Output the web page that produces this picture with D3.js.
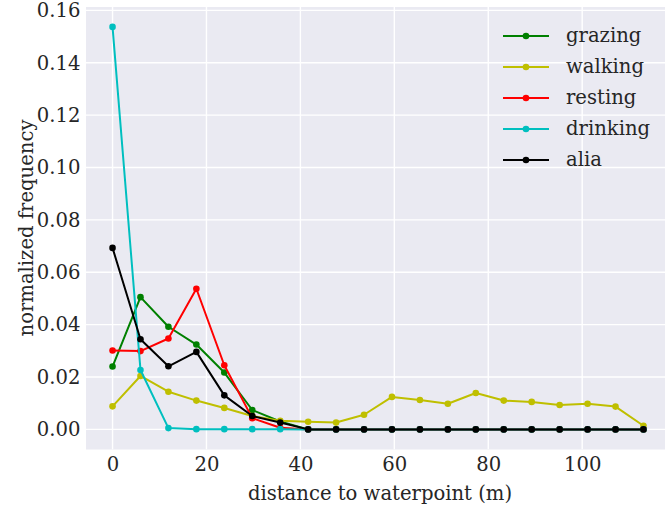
<!DOCTYPE html>
<html>
<head>
<meta charset="utf-8">
<script src="https://cdn.jsdelivr.net/npm/d3@7"></script>
<style>
  html, body { margin: 0; padding: 0; background: #ffffff; }
  svg { display: block; }
</style>
</head>
<body>
<svg id="chart" width="665" height="510"></svg>
<script>
// Bin centres (m) of distance to the waterpoint
const distance = [0, 5.95, 11.9, 17.85, 23.8, 29.75, 35.7, 41.65, 47.6, 53.55,
                  59.5, 65.45, 71.4, 77.35, 83.3, 89.25, 95.2, 101.15, 107.1, 113.05];

// Normalized frequency per behaviour
const grazing  = [0.0240, 0.0505, 0.0392, 0.0324, 0.0217, 0.0074, 0.0030, 0, 0, 0,
                  0, 0, 0, 0, 0, 0, 0, 0, 0, 0];
const walking  = [0.0088, 0.0204, 0.0144, 0.0110, 0.0082, 0.0051, 0.0033, 0.0029, 0.0026, 0.0056,
                  0.0124, 0.0112, 0.0098, 0.0139, 0.0110, 0.0105, 0.0093, 0.0098, 0.0087, 0.0014];
const resting  = [0.0301, 0.0299, 0.0347, 0.0537, 0.0245, 0.0043, 0.0006, 0, 0, 0,
                  0, 0, 0, 0, 0, 0, 0, 0, 0, 0];
const drinking = [0.1537, 0.0227, 0.0005, 0.0001, 0.0001, 0.0001, 0.0001, 0, 0, 0,
                  0, 0, 0, 0, 0, 0, 0, 0, 0, 0];
const alia     = [0.0693, 0.0344, 0.0241, 0.0296, 0.0130, 0.0051, 0.0026, 0, 0, 0,
                  0, 0, 0, 0, 0, 0, 0, 0, 0, 0];

const seriesNames  = ["grazing", "walking", "resting", "drinking", "alia"];
const seriesValues = [grazing, walking, resting, drinking, alia];
const seriesColors = ["#008000", "#bfbf00", "#ff0000", "#00bfbf", "#000000"];

const xTicks = [0, 20, 40, 60, 80, 100];
const yTicks = [0, 0.02, 0.04, 0.06, 0.08, 0.10, 0.12, 0.14, 0.16];

const FONT = "'DejaVu Serif', serif";
const FONT_SIZE = "19.6px";
const TEXT_COLOR = "#262626";

const svg = d3.select("#chart");
const plot = { left: 86, top: 7, right: 670, bottom: 449.5 };

const x = d3.scaleLinear().domain([-5.65, 118.7]).range([plot.left, plot.right]);
const y = d3.scaleLinear().domain([-0.00768, 0.1613]).range([plot.bottom, plot.top]);

function styleText(sel) {
  return sel.style("font-family", FONT).style("font-size", FONT_SIZE).style("fill", TEXT_COLOR);
}

// Axes background
svg.append("rect")
  .attr("x", plot.left).attr("y", plot.top)
  .attr("width", plot.right - plot.left).attr("height", plot.bottom - plot.top)
  .attr("fill", "#eaeaf2");

svg.append("defs").append("clipPath").attr("id", "plotclip")
  .append("rect")
  .attr("x", plot.left).attr("y", plot.top)
  .attr("width", plot.right - plot.left).attr("height", plot.bottom - plot.top);

// White grid lines
const grid = svg.append("g").attr("clip-path", "url(#plotclip)");
grid.selectAll("line.gx").data(xTicks).join("line")
  .attr("x1", d => x(d)).attr("x2", d => x(d))
  .attr("y1", plot.top).attr("y2", plot.bottom)
  .attr("stroke", "#ffffff").attr("stroke-width", 1.4);
grid.selectAll("line.gy").data(yTicks).join("line")
  .attr("y1", d => y(d)).attr("y2", d => y(d))
  .attr("x1", plot.left).attr("x2", plot.right)
  .attr("stroke", "#ffffff").attr("stroke-width", 1.4);

// Axes (labels only, no spines or tick marks)
const xAxis = svg.append("g")
  .attr("transform", `translate(0,${plot.bottom})`)
  .call(d3.axisBottom(x).tickValues(xTicks).tickSize(0).tickFormat(d3.format("d")));
const yAxis = svg.append("g")
  .attr("transform", `translate(${plot.left},0)`)
  .call(d3.axisLeft(y).tickValues(yTicks).tickSize(0).tickPadding(5.5).tickFormat(d3.format(".2f")));
[xAxis, yAxis].forEach(a => {
  a.select(".domain").remove();
  a.attr("font-family", null).attr("font-size", null);
  styleText(a.selectAll("text"));
});
xAxis.selectAll("text").attr("y", 21.5).attr("dy", 0);

// Lines with dot markers
const line = d3.line().x((d, i) => x(distance[i])).y(d => y(d));
const marks = svg.append("g").attr("clip-path", "url(#plotclip)");
seriesValues.forEach((vals, k) => {
  const g = marks.append("g");
  g.append("path").datum(vals)
    .attr("d", line).attr("fill", "none")
    .attr("stroke", seriesColors[k]).attr("stroke-width", 2)
    .attr("stroke-linejoin", "round");
  g.selectAll("circle").data(vals).join("circle")
    .attr("cx", (d, i) => x(distance[i])).attr("cy", d => y(d))
    .attr("r", 3.3).attr("fill", seriesColors[k]);
});

// Axis titles
styleText(svg.append("text")
  .attr("x", 380).attr("y", 500)
  .attr("text-anchor", "middle"))
  .text("distance to waterpoint (m)");
styleText(svg.append("text")
  .attr("transform", "translate(33,228) rotate(-90)")
  .attr("text-anchor", "middle"))
  .text("normalized frequency");

// Legend
const legend = svg.append("g");
seriesNames.forEach((name, k) => {
  const ly = 36 + k * 31;
  legend.append("line")
    .attr("x1", 503).attr("x2", 549).attr("y1", ly).attr("y2", ly)
    .attr("stroke", seriesColors[k]).attr("stroke-width", 2);
  legend.append("circle").attr("cx", 526).attr("cy", ly).attr("r", 3.3)
    .attr("fill", seriesColors[k]);
  styleText(legend.append("text")
    .attr("x", 566).attr("y", ly).attr("dy", "0.32em"))
    .text(name);
});
</script>
</body>
</html>
